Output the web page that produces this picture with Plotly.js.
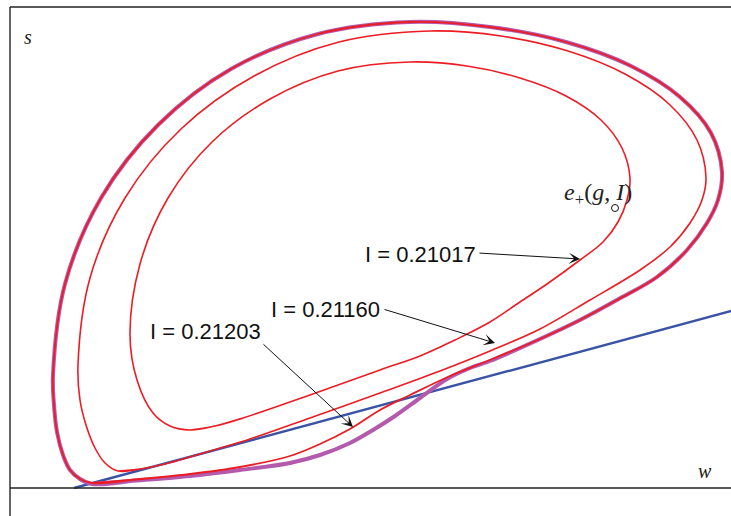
<!DOCTYPE html>
<html>
<head>
<meta charset="utf-8">
<script src="https://cdn.plot.ly/plotly-3.0.1.min.js"></script>
<style>html,body{margin:0;padding:0;background:#fff;}#chart{width:731px;height:516px;}</style>
</head>
<body>
<div id="chart"></div>
<script>
// Periodic orbits in the (w, s) plane for three values of I
const innerW = [180,205,233,300,370,410,445,480,510,537,570,593,608,617,620,612,591,556,510,457,400,328,260,202,158,130,120,127,143,160,180,205];
const innerS = [58,62,70,93,118,132,148,166,186,204,228,246,266,288,310,340,368,392,410,422,426,417,389,346,290,224,153,108,75,62,58,62];

const midW = [108,130,155,183,207,240,300,370,430,480,530,580,630,660,680,692,696,687,659,615,558,491,420,329,244,171,115,80,68,70,76,85,95,108,130];
const midS = [17,19,24,32,39,49,70,95,117,137,159,188,218,241,265,288,310,348,384,414,437,452,457,446,412,359,290,210,123,88,63,40,25,17,19];

const outW = [82,120,180,230,280,310,340,370,400,440,480,530,570,607,647,677,697,708,712,701,670,621,556,480,400,308,221,148,91,55,43,44,47,53,60,70,82,120];
const outS = [5,8,14,21,32,44,59,78,93,112,128,149,168,188,211,238,265,288,316,355,391,422,446,461,466,454,419,363,290,204,113,83,56,33,18,9,5,8];

// homoclinic orbit
const homW = [82,120,180,230,280,310,340,363,385,410,437,460,480,530,570,607,647,677,697,708,712,701,670,621,556,480,400,308,221,148,91,55,43,44,47,53,60,70,82,120];
const homS = [4,7,12,18,25,33,45,58,72,90,109,120,127,149,168,188,211,238,265,288,316,355,391,422,446,461,466,454,419,363,290,204,113,83,56,33,18,9,4,7];

// straight line (nullcline)
const lineW = [64, 740];
const lineS = [0, 182];

// equilibrium e+(g,I)
const eqW = [605];
const eqS = [280];

const labels = ["I = 0.21017", "I = 0.21160", "I = 0.21203"];
const eqLabel = "<i>e</i><sub>+</sub>(<i>g</i>, <i>I</i>)";
const xLabel = "w", yLabel = "s";

const RED = "#ec1c24", BLUE = "#3a53a4", PURPLE = "#b35aad";

const traces = [
  {x: lineW, y: lineS, mode: "lines", line: {color: BLUE, width: 2.4}},
  {x: homW, y: homS, mode: "lines", line: {color: PURPLE, width: 4, shape: "spline", smoothing: 1}},
  {x: outW, y: outS, mode: "lines", line: {color: RED, width: 1.8, shape: "spline", smoothing: 1}},
  {x: midW, y: midS, mode: "lines", line: {color: RED, width: 1.6, shape: "spline", smoothing: 1}},
  {x: innerW, y: innerS, mode: "lines", line: {color: RED, width: 1.6, shape: "spline", smoothing: 1}},
  {x: eqW, y: eqS, mode: "markers", marker: {symbol: "circle-open", size: 7, color: "#111", line: {width: 1}}}
];

const lblFont = {family: "Liberation Sans, Arial, sans-serif", size: 22, color: "#111"};
const mathFont = {family: "Liberation Serif, Times New Roman, serif", size: 20, color: "#222"};
const eqFont = {family: "Liberation Serif, Times New Roman, serif", size: 24, color: "#222"};
const arrow = {text: "", showarrow: true, arrowhead: 3, arrowsize: 1.9, arrowwidth: 1, arrowcolor: "#111", axref: "x", ayref: "y", xref: "x", yref: "y", standoff: 0};

const layout = {
  width: 731, height: 516,
  margin: {l: 10, r: 0, t: 7, b: 0},
  paper_bgcolor: "#fff", plot_bgcolor: "#fff",
  showlegend: false,
  xaxis: {range: [0, 721], visible: false, fixedrange: true},
  yaxis: {range: [-28, 481], visible: false, fixedrange: true},
  shapes: [
    {type: "line", xref: "paper", yref: "paper", x0: 0, x1: 0, y0: 0, y1: 1, line: {color: "#222", width: 1.4}},
    {type: "line", xref: "paper", yref: "paper", x0: 0, x1: 1, y0: 1, y1: 1, line: {color: "#222", width: 1.4}},
    {type: "line", xref: "paper", yref: "y", x0: 0, x1: 1, y0: 0, y1: 0, line: {color: "#222", width: 1.3}}
  ],
  annotations: [
    {x: 18, y: 451, xref: "x", yref: "y", text: "<i>" + yLabel + "</i>", showarrow: false, font: mathFont},
    {x: 695, y: 17, xref: "x", yref: "y", text: "<i>" + xLabel + "</i>", showarrow: false, font: mathFont},
    {x: 588, y: 294, xref: "x", yref: "y", text: eqLabel, showarrow: false, font: eqFont},
    {x: 410, y: 234, xref: "x", yref: "y", text: labels[0], showarrow: false, font: lblFont},
    {x: 315, y: 179, xref: "x", yref: "y", text: labels[1], showarrow: false, font: lblFont},
    {x: 195, y: 157, xref: "x", yref: "y", text: labels[2], showarrow: false, font: lblFont},
    Object.assign({x: 570, y: 229, ax: 468, ay: 235}, arrow),
    Object.assign({x: 485, y: 145, ax: 373, ay: 179}, arrow),
    Object.assign({x: 343, y: 61, ax: 252, ay: 145}, arrow)
  ]
};

Plotly.newPlot("chart", traces, layout, {staticPlot: true, displayModeBar: false});
</script>
</body>
</html>
